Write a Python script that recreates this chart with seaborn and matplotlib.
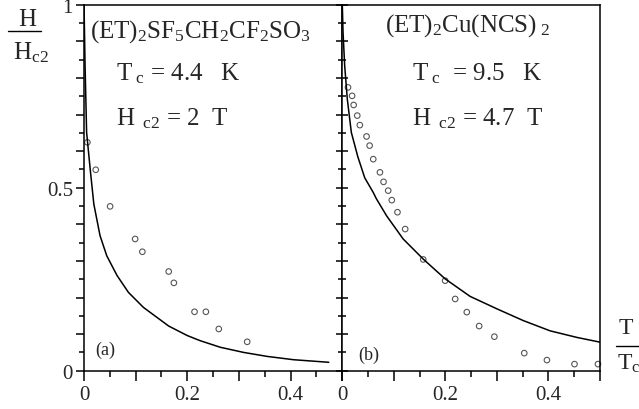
import matplotlib
matplotlib.use("Agg")
import matplotlib.pyplot as plt
from matplotlib.lines import Line2D
from matplotlib.ticker import MultipleLocator, FuncFormatter
import pandas as pd
import seaborn as sns

# (a) (ET)2SF5CH2CF2SO3
left_curve_x = [0.0, 0.002, 0.005, 0.012, 0.019, 0.031, 0.044, 0.064, 0.086, 0.115,
                0.164, 0.200, 0.225, 0.264, 0.309, 0.355, 0.406, 0.474]
left_curve_y = [1.0, 0.834, 0.651, 0.550, 0.455, 0.369, 0.314, 0.260, 0.214, 0.173,
                0.122, 0.096, 0.082, 0.064, 0.050, 0.039, 0.030, 0.023]
left_pts_x = [0.0065, 0.0227, 0.0505, 0.099, 0.113, 0.164, 0.174, 0.214, 0.236, 0.261, 0.316]
left_pts_y = [0.624, 0.549, 0.449, 0.360, 0.325, 0.271, 0.240, 0.161, 0.161, 0.114, 0.079]

# (b) (ET)2Cu(NCS)2
right_curve_x = [0.0, 0.0014, 0.0046, 0.0097, 0.0175, 0.030, 0.0435, 0.060, 0.066, 0.086,
                 0.118, 0.157, 0.1995, 0.248, 0.300, 0.351, 0.403, 0.455, 0.500]
right_curve_y = [1.0, 0.925, 0.833, 0.742, 0.651, 0.585, 0.527, 0.487, 0.470, 0.423,
                 0.360, 0.305, 0.251, 0.203, 0.169, 0.137, 0.109, 0.091, 0.078]
right_pts_x = [0.011, 0.019, 0.022, 0.029, 0.034, 0.047, 0.053, 0.060, 0.073, 0.080, 0.089,
               0.096, 0.107, 0.122, 0.157, 0.1995, 0.219, 0.2415, 0.2655, 0.295, 0.353,
               0.397, 0.4505, 0.496]
right_pts_y = [0.774, 0.751, 0.726, 0.697, 0.671, 0.640, 0.615, 0.578, 0.542, 0.516, 0.492,
               0.466, 0.433, 0.387, 0.304, 0.246, 0.196, 0.160, 0.122, 0.093, 0.048,
               0.029, 0.018, 0.018]

sns.set_style("ticks")
plt.rcParams["font.family"] = ["Liberation Serif", "DejaVu Serif"]
plt.rcParams["mathtext.fontset"] = "custom"
plt.rcParams["mathtext.rm"] = "Liberation Serif"
plt.rcParams["mathtext.it"] = "Liberation Serif:italic"

fig = plt.figure(figsize=(6.39, 4.10), dpi=100)
ax1 = fig.add_axes([0.1315, 0.0934, 0.4040, 0.8927])
ax2 = fig.add_axes([0.5357, 0.0934, 0.4033, 0.8927])


def draw_panel(ax, cx, cy, px, py):
    curve = pd.DataFrame({"x": cx, "y": cy})
    pts = pd.DataFrame({"x": px, "y": py})
    sns.lineplot(data=curve, x="x", y="y", ax=ax, color="black", lw=1.1,
                 sort=False, estimator=None)
    sns.scatterplot(data=pts, x="x", y="y", ax=ax, marker="o", s=16,
                    facecolor="none", edgecolor="#555555", linewidth=0.8,
                    clip_on=False)
    ax.set_xlim(0, 0.5)
    ax.set_ylim(0, 1)
    ax.set_xlabel("")
    ax.set_ylabel("")
    for sp in ax.spines.values():
        sp.set_visible(True)
        sp.set_linewidth(1.1)
        sp.set_color("black")
    ax.xaxis.set_major_locator(MultipleLocator(0.1))
    ax.xaxis.set_minor_locator(MultipleLocator(0.05))
    ax.xaxis.set_major_formatter(FuncFormatter(
        lambda v, p: {0: "0", 2: "0.2", 4: "0.4"}.get(int(round(v * 10)), "")))
    ax.yaxis.set_major_locator(MultipleLocator(0.1))
    ax.yaxis.set_minor_locator(MultipleLocator(0.05))
    ax.yaxis.set_major_formatter(FuncFormatter(
        lambda v, p: {0: "0", 5: "0.5", 10: "1"}.get(int(round(v * 10)), "")))
    ax.tick_params(axis="x", which="major", length=7, width=1.1, labelsize=15,
                   direction="out", color="black", pad=3)
    ax.tick_params(axis="x", which="minor", length=4, width=1.1, direction="out",
                   color="black")
    ax.tick_params(axis="y", which="major", length=6, width=1.1, labelsize=15,
                   color="black", pad=2)
    ax.tick_params(axis="y", which="minor", length=3.5, width=1.1, color="black")


draw_panel(ax1, left_curve_x, left_curve_y, left_pts_x, left_pts_y)
draw_panel(ax2, right_curve_x, right_curve_y, right_pts_x, right_pts_y)

ax1.tick_params(axis="y", which="both", direction="out")
ax2.tick_params(axis="y", which="both", direction="inout", labelleft=False)
ax2.tick_params(axis="y", which="major", length=9)
ax2.tick_params(axis="y", which="minor", length=6)

# panel texts
ax1.text(0.012, 0.93, r"(ET)$_\mathrm{2}$SF$_\mathrm{5}$CH$_\mathrm{2}$CF$_\mathrm{2}$SO$_\mathrm{3}$",
         fontsize=18, va="center", ha="left")
ax1.text(0.061, 0.815, r"T$_\mathrm{\ c}$ = 4.4   K", fontsize=18, va="center", ha="left")
ax1.text(0.061, 0.69, r"H$_\mathrm{\ \ c2}$ = 2  T", fontsize=18, va="center", ha="left")
ax1.text(0.021, 0.058, "(a)", fontsize=13, va="center", ha="left")

ax2.text(0.083, 0.945, r"(ET)$_\mathrm{2}$Cu(NCS)$_\mathrm{\ 2}$", fontsize=18,
         va="center", ha="left")
ax2.text(0.135, 0.815, r"T$_\mathrm{\ c}$  = 9.5   K", fontsize=18, va="center", ha="left")
ax2.text(0.135, 0.69, r"H$_\mathrm{\ \ c2}$ = 4.7  T", fontsize=18, va="center", ha="left")
ax2.text(0.03, 0.045, "(b)", fontsize=13, va="center", ha="left")

# axis labels as fractions
fig.text(27 / 639, 1 - 20 / 410, "H", fontsize=18, ha="center", va="center")
fig.add_artist(Line2D([8 / 639, 41 / 639], [1 - 32 / 410, 1 - 32 / 410],
                      color="black", lw=1.0))
fig.text(13 / 639, 1 - 53 / 410, r"H$_\mathrm{c2}$", fontsize=18, ha="left", va="center")

fig.text(626 / 639, 1 - 329 / 410, "T", fontsize=17, ha="center", va="center")
fig.add_artist(Line2D([616 / 639, 639 / 639], [1 - 347 / 410, 1 - 347 / 410],
                      color="black", lw=1.0))
fig.text(617 / 639, 1 - 364 / 410, r"T$_\mathrm{c}$", fontsize=17, ha="left", va="center")

fig.savefig("out.png", dpi=100)
